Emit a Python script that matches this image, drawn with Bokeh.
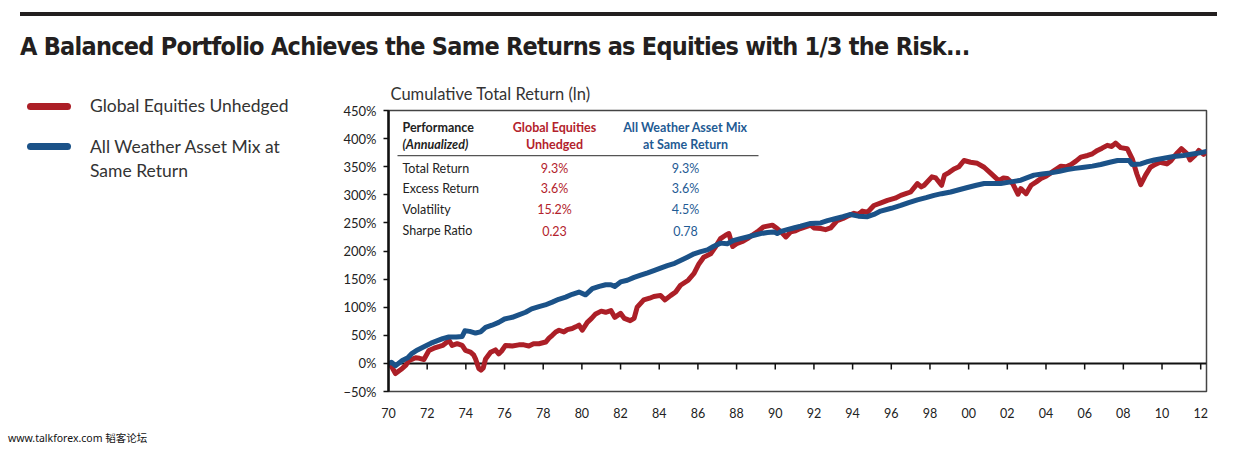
from bokeh.plotting import figure
from bokeh.models import Label, BoxAnnotation, Span, FixedTicker, Range1d, Div
from bokeh.layouts import column, row
from bokeh.embed import file_html
from bokeh.resources import INLINE

# ---------------- data ----------------
title_text = "A Balanced Portfolio Achieves the Same Returns as Equities with 1/3 the Risk..."
subtitle_text = "Cumulative Total Return (ln)"
legend_eq = "Global Equities Unhedged"
legend_aw = ["All Weather Asset Mix at", "Same Return"]
footer_url = "www.talkforex.com"
footer_cjk = "韬客论坛"

eq_years = [1970.0, 1970.15, 1970.36, 1970.55, 1970.71, 1970.9, 1971.05, 1971.4, 1971.6, 1971.83,
            1972.09, 1972.35, 1972.6, 1972.8, 1973.03, 1973.15, 1973.29, 1973.55, 1973.81, 1973.98,
            1974.24, 1974.4, 1974.5, 1974.67, 1974.78, 1974.9, 1975.02, 1975.28, 1975.53, 1975.7,
            1975.85, 1976.05, 1976.4, 1976.74, 1977.0, 1977.26, 1977.5, 1977.78, 1978.13, 1978.3,
            1978.47, 1978.65, 1978.82, 1979.07, 1979.25, 1979.5, 1979.68, 1979.85, 1980.02, 1980.28,
            1980.5, 1980.71, 1981.0, 1981.23, 1981.5, 1981.7, 1982.0, 1982.2, 1982.5, 1982.7,
            1982.86, 1983.2, 1983.5, 1983.72, 1984.07, 1984.3, 1984.6, 1984.85, 1985.1, 1985.5,
            1985.8, 1986.05, 1986.3, 1986.66, 1986.9, 1987.17, 1987.43, 1987.6, 1987.8, 1988.0,
            1988.3, 1988.56, 1988.8, 1989.07, 1989.4, 1989.85, 1990.1, 1990.3, 1990.55, 1990.8,
            1991.05, 1991.3, 1991.83, 1992.0, 1992.35, 1992.6, 1992.86, 1993.2, 1993.5, 1993.73,
            1994.07, 1994.3, 1994.5, 1994.77, 1995.1, 1995.5, 1995.8, 1996.2, 1996.49, 1996.75,
            1997.0, 1997.35, 1997.55, 1997.7, 1998.1, 1998.3, 1998.6, 1998.75, 1999.0, 1999.24,
            1999.5, 1999.76, 2000.1, 2000.45, 2000.8, 2001.15, 2001.5, 2001.66, 2001.8, 2002.0,
            2002.28, 2002.55, 2002.7, 2002.97, 2003.23, 2003.5, 2003.74, 2004.0, 2004.25, 2004.5,
            2004.77, 2005.05, 2005.3, 2005.55, 2005.8, 2006.15, 2006.4, 2006.66, 2006.9, 2007.17,
            2007.4, 2007.6, 2007.86, 2008.2, 2008.46, 2008.7, 2008.9, 2009.15, 2009.4, 2009.65,
            2009.9, 2010.25, 2010.45, 2010.6, 2010.8, 2011.0, 2011.3, 2011.45, 2011.7, 2011.9,
            2012.15, 2012.3]
eq_vals = [0, -5, -18, -13, -9, -3, 5, 10, 9, 7,
           23, 27, 30, 32, 38, 40, 32, 35, 32, 23,
           20, 15, 8, -9, -12, -8, 8, 20, 24, 17,
           22, 32, 31, 33, 33, 31, 35, 35, 38, 45,
           50, 56, 59, 56, 60, 62, 65, 68, 59, 73,
           80, 88, 93, 91, 94, 82, 89, 80, 76, 80,
           100, 113, 116, 119, 121, 113, 121, 127, 139, 148,
           160, 177, 189, 195, 207, 222, 228, 231, 208, 213,
           217, 222, 228, 234, 243, 246, 240, 234, 225, 234,
           236, 240, 246, 241, 240, 238, 241, 254, 258, 262,
           267, 265, 271, 269, 281, 286, 290, 294, 299, 302,
           305, 320, 314, 317, 332, 330, 317, 335, 340, 346,
           350, 361, 358, 356, 349, 338, 327, 327, 330, 329,
           320, 301, 311, 302, 317, 323, 329, 333, 339, 345,
           351, 350, 354, 360, 367, 370, 373, 379, 383, 388,
           386, 392, 384, 382, 364, 337, 318, 335, 349, 354,
           358, 355, 360, 367, 375, 382, 373, 362, 370, 379,
           372, 376]

aw_years = [1970.0, 1970.15, 1970.36, 1970.71, 1971.0, 1971.22, 1971.5, 1971.91, 1972.2, 1972.5,
            1972.8, 1973.12, 1973.5, 1973.81, 1973.95, 1974.2, 1974.5, 1974.76, 1975.02, 1975.35,
            1975.7, 1976.0, 1976.4, 1976.7, 1977.09, 1977.4, 1977.78, 1978.1, 1978.47, 1978.8,
            1979.16, 1979.5, 1979.85, 1980.19, 1980.54, 1980.9, 1981.23, 1981.5, 1981.7, 1982.0,
            1982.35, 1982.7, 1983.04, 1983.4, 1983.72, 1984.1, 1984.42, 1984.8, 1985.1, 1985.45,
            1985.8, 1986.15, 1986.49, 1986.8, 1987.17, 1987.52, 1987.86, 1988.2, 1988.56, 1988.9,
            1989.24, 1989.6, 1989.93, 1990.1, 1990.3, 1990.62, 1990.95, 1991.31, 1991.83, 1992.35,
            1992.7, 1993.04, 1993.5, 1993.9, 1994.3, 1994.77, 1995.1, 1995.45, 1996.0, 1996.49,
            1996.9, 1997.35, 1997.8, 1998.21, 1998.6, 1999.07, 1999.5, 1999.94, 2000.4, 2000.8,
            2001.2, 2001.66, 2002.18, 2002.7, 2003.0, 2003.38, 2003.8, 2004.25, 2004.7, 2005.1,
            2005.5, 2005.97, 2006.4, 2006.83, 2007.3, 2007.7, 2008.3, 2008.45, 2008.9, 2009.25,
            2009.6, 2010.1, 2010.6, 2011.1, 2011.66, 2012.0, 2012.3]
aw_vals = [0, 2, -4, 5, 10, 18, 24, 31, 36, 40,
           44, 47, 47, 48, 58, 57, 54, 56, 64, 68,
           73, 79, 82, 86, 91, 97, 101, 104, 109, 114,
           118, 123, 127, 122, 133, 137, 140, 140, 137, 145,
           148, 153, 157, 161, 165, 170, 174, 178, 183, 189,
           195, 199, 202, 208, 214, 213, 219, 222, 225, 228,
           231, 233, 234, 231, 235, 238, 241, 244, 249, 250,
           254, 257, 261, 265, 262, 261, 265, 271, 276, 281,
           286, 291, 295, 299, 302, 305, 309, 313, 317, 320,
           320, 320, 323, 326, 330, 335, 337, 339, 342, 345,
           347, 349, 351, 354, 358, 361, 361, 354, 355, 359,
           362, 365, 368, 370, 373, 375, 377]

y_ticks = [-50, 0, 50, 100, 150, 200, 250, 300, 350, 400, 450]
y_tick_labels = ["\u221250%", "0%", "50%", "100%", "150%", "200%", "250%", "300%", "350%", "400%", "450%"]
x_ticks = [1970, 1972, 1974, 1976, 1978, 1980, 1982, 1984, 1986, 1988, 1990,
           1992, 1994, 1996, 1998, 2000, 2002, 2004, 2006, 2008, 2010, 2012]
x_tick_labels = ["70", "72", "74", "76", "78", "80", "82", "84", "86", "88", "90",
                 "92", "94", "96", "98", "00", "02", "04", "06", "08", "10", "12"]

table_head_left = ["Performance", "(Annualized)"]
table_head_eq = ["Global Equities", "Unhedged"]
table_head_aw = ["All Weather Asset Mix", "at Same Return"]
table_rows = ["Total Return", "Excess Return", "Volatility", "Sharpe Ratio"]
eq_stats = ["9.3%", "3.6%", "15.2%", "0.23"]
aw_stats = ["9.3%", "3.6%", "4.5%", "0.78"]

# ---------------- style ----------------
RED = "#AC1F27"
BLUE = "#1B5288"
RED_T = "#B3222C"
BLUE_T = "#1F5B94"
INK = "#231F20"
TXT = "#333333"

X_MIN, X_MAX = 1970.0, 2012.3
Y_MIN, Y_MAX = -50.0, 450.0
# frame position in page pixels
FL, FR, FT, FB = 388, 1206, 110, 391
TOP_H = 70          # height of the title strip
LEFT_W = 300        # width of the legend column
FIG_W = 951
FIG_H = 351
FOOT_H = 26


def X(px):
    return X_MIN + (px - FL) * (X_MAX - X_MIN) / (FR - FL)


def Y(py):
    return Y_MAX - (py - FT) * (Y_MAX - Y_MIN) / (FB - FT)


p = figure(width=FIG_W, height=FIG_H, output_backend="svg", toolbar_location=None,
           x_range=Range1d(X_MIN, X_MAX), y_range=Range1d(Y_MIN, Y_MAX),
           min_border_left=FL - LEFT_W, min_border_right=FIG_W - (FR - LEFT_W),
           min_border_top=FT - TOP_H, min_border_bottom=FIG_H - (FB - TOP_H))
p.xgrid.visible = False
p.ygrid.visible = False
p.background_fill_color = "white"
p.border_fill_color = "white"
p.outline_line_color = "#444444"
p.outline_line_width = 1.5

p.title.text = subtitle_text
p.title.align = "left"
p.title.offset = 2
p.title.text_font = "Lato"
p.title.text_font_style = "normal"
p.title.text_font_size = "16.5px"
p.title.text_color = TXT
p.title.standoff = 13

# axes
p.yaxis.ticker = FixedTicker(ticks=y_ticks)
p.yaxis.major_label_overrides = {t: l for t, l in zip(y_ticks, y_tick_labels)}
p.yaxis.axis_line_color = "#111111"
p.yaxis.axis_line_width = 2.5
p.yaxis.major_tick_line_color = "#111111"
p.yaxis.major_tick_line_width = 1.5
p.yaxis.major_tick_in = 0
p.yaxis.major_tick_out = 5
p.yaxis.minor_tick_line_color = None
p.yaxis.major_label_standoff = 7
p.yaxis.major_label_text_font = "Lato"
p.yaxis.major_label_text_font_size = "13px"
p.yaxis.major_label_text_color = "#222222"

p.xaxis.ticker = FixedTicker(ticks=x_ticks)
p.xaxis.major_label_overrides = {t: l for t, l in zip(x_ticks, x_tick_labels)}
p.xaxis.axis_line_color = None
p.xaxis.major_tick_line_color = None
p.xaxis.minor_tick_line_color = None
p.xaxis.major_label_standoff = 10
p.xaxis.major_label_text_font = "Lato"
p.xaxis.major_label_text_font_size = "12.5px"
p.xaxis.major_label_text_color = "#222222"

# zero line with downward ticks
p.add_layout(Span(location=0, dimension="width", line_color="#111111", line_width=2, level="underlay"))
tick_len = 6 * (Y_MAX - Y_MIN) / (FB - FT)
p.segment(x0=x_ticks[1:], y0=[0] * (len(x_ticks) - 1), x1=x_ticks[1:], y1=[-tick_len] * (len(x_ticks) - 1),
          line_color="#111111", line_width=1.5)

# series
p.line(eq_years, eq_vals, line_color=RED, line_width=5, line_join="round", line_cap="round")
p.line(aw_years, aw_vals, line_color=BLUE, line_width=5, line_join="round", line_cap="round")


def lab(px, py, text, size, color=TXT, font="Lato", style="normal", align="left", baseline="middle"):
    p.add_layout(Label(x=X(px), y=Y(py), text=text, text_font=font, text_font_size=f"{size}px",
                       text_font_style=style, text_color=color, text_align=align,
                       text_baseline=baseline))


# table inside the plot frame
lab(402, 127, table_head_left[0], 12.5, color="#222222", style="bold")
lab(402, 144, table_head_left[1], 12.5, color="#222222", style="bold italic")
lab(554, 127, table_head_eq[0], 12.5, color=RED_T, style="bold", align="center")
lab(554, 144, table_head_eq[1], 12.5, color=RED_T, style="bold", align="center")
lab(685, 127, table_head_aw[0], 12.5, color=BLUE_T, style="bold", align="center")
lab(685, 144, table_head_aw[1], 12.5, color=BLUE_T, style="bold", align="center")
p.add_layout(BoxAnnotation(left=X(397), right=X(758), top=Y(154.5), bottom=Y(155.7),
                           fill_color="#555555", fill_alpha=1, line_color=None))
row_y = [168, 188, 209, 230]
for ry, name, a, b in zip(row_y, table_rows, eq_stats, aw_stats):
    lab(402, ry, name, 12.5, color="#222222")
    lab(554, ry, a, 12.5, color=RED_T, align="center")
    lab(685, ry, b, 12.5, color=BLUE_T, align="center")

# ---------------- html pieces around the figure ----------------
abs_ = "position:absolute;white-space:nowrap;"
top_html = (
    f'<div style="position:relative;width:1259px;height:{TOP_H}px;margin:0;padding:0;">'
    f'<div style="{abs_}left:20px;top:12px;width:1197px;height:4px;background:{INK};"></div>'
    f'<div style="{abs_}left:20px;top:33px;line-height:28px;font-size:25px;font-weight:bold;letter-spacing:-0.75px;'
    f"font-family:'DejaVu Sans Condensed',sans-serif;font-stretch:condensed;"
    f'color:{INK};">{title_text}</div>'
    '</div>'
)
top_div = Div(text=top_html, width=1259, height=TOP_H, margin=0)

leg_font = "font-family:Lato,sans-serif;font-size:17.5px;color:#333333;"
left_html = (
    f'<div style="position:relative;width:{LEFT_W}px;height:{FIG_H}px;margin:0;padding:0;">'
    f'<div style="{abs_}left:27px;top:{102.5 - TOP_H}px;width:44px;height:7px;border-radius:3.5px;background:{RED};"></div>'
    f'<div style="{abs_}left:90px;top:{106 - TOP_H - 12}px;line-height:24px;{leg_font}">{legend_eq}</div>'
    f'<div style="{abs_}left:27px;top:{142.5 - TOP_H}px;width:44px;height:7px;border-radius:3.5px;background:{BLUE};"></div>'
    f'<div style="{abs_}left:90px;top:{147 - TOP_H - 12}px;line-height:24px;{leg_font}">{legend_aw[0]}<br>{legend_aw[1]}</div>'
    '</div>'
)
left_div = Div(text=left_html, width=LEFT_W, height=FIG_H, margin=0)

foot_top = TOP_H + FIG_H
foot_html = (
    f'<div style="position:relative;width:400px;height:{FOOT_H}px;margin:0;padding:0;">'
    f'<div style="{abs_}left:8px;top:{438 - foot_top - 8}px;line-height:16px;font-size:10.5px;color:#111111;'
    f"font-family:'Noto Sans','Noto Sans CJK SC',sans-serif;\">{footer_url} "
    f"<span style=\"font-family:'Noto Sans CJK SC';\">{footer_cjk}</span></div>"
    '</div>'
)
foot_div = Div(text=foot_html, width=400, height=FOOT_H, margin=0)

layout = column(top_div, row(left_div, p, spacing=0), foot_div, spacing=0)

open("out.html", "w").write(file_html(layout, INLINE))
